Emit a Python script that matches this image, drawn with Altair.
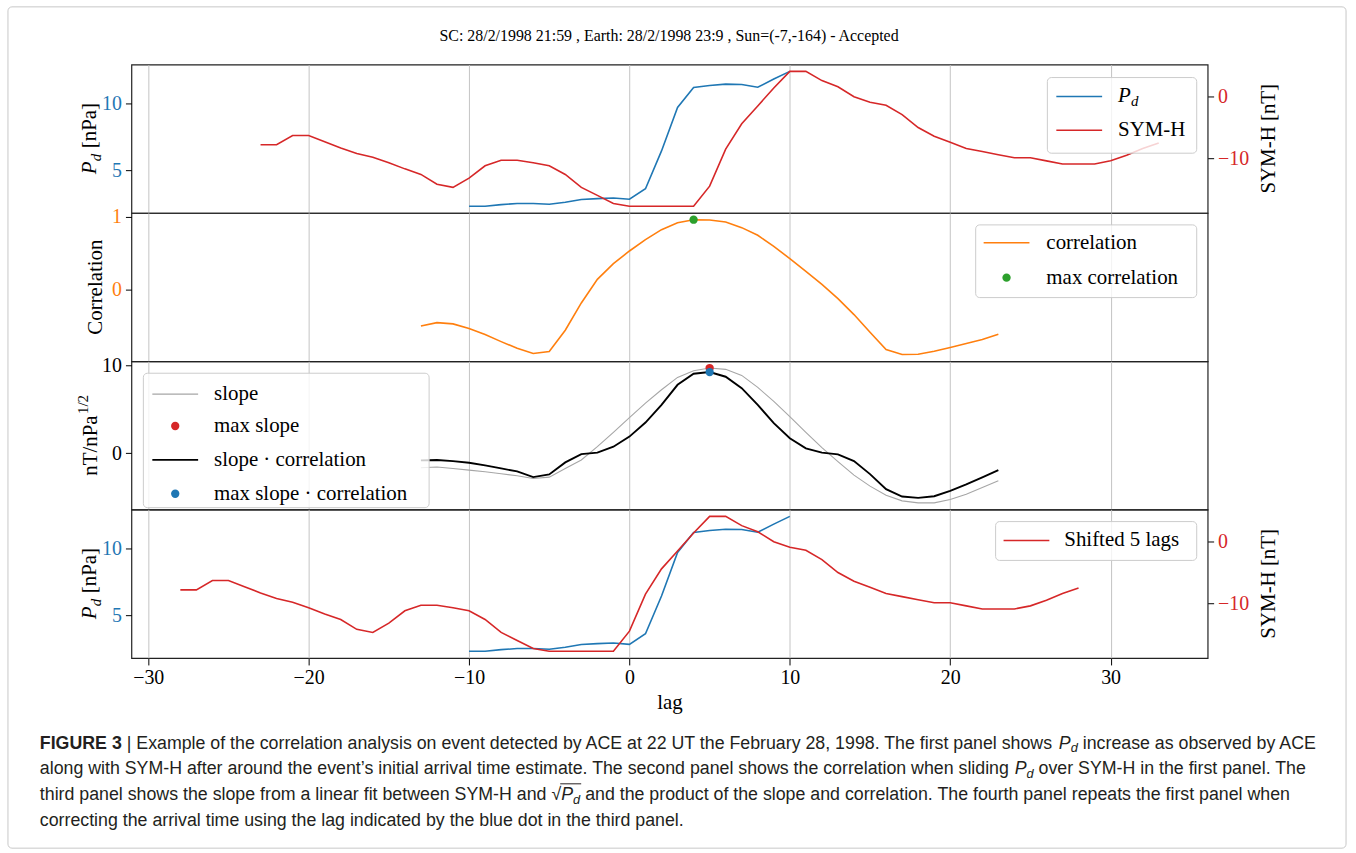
import altair as alt
import pandas as pd

BLUE, RED, ORANGE, GREEN = "#1f77b4", "#d62728", "#ff7f0e", "#2ca02c"
GREY, FRAME, GRID, INK = "#a6a6a6", "#222222", "#c4c4c4", "#231f20"
SERIF, SANS = "Liberation Serif", "Liberation Sans"

# Dynamic pressure P_d seen by ACE [nPa]
pd_lags = list(range(-10, 11))
pd_vals = [2.29, 2.29, 2.41, 2.49, 2.49, 2.44, 2.59, 2.79, 2.86, 2.91, 2.81,
           3.60, 6.44, 9.70, 11.20, 11.35, 11.45, 11.42, 11.22, 11.83, 12.41]

# SYM-H index [nT]
sym_lags = list(range(-23, 34))
sym_vals = [-7.8, -7.8, -6.3, -6.3, -7.3, -8.3, -9.2, -9.8, -10.7, -11.7,
            -12.6, -14.2, -14.7, -13.2, -11.2, -10.3, -10.3, -10.7, -11.2, -12.6,
            -14.7, -16.0, -17.3, -17.75, -17.75, -17.75, -17.75, -17.75, -14.5, -8.5,
            -4.4, -1.5, 1.4, 4.1, 4.1, 2.6, 1.6, 0.0, -0.9, -1.4,
            -2.9, -5.0, -6.4, -7.4, -8.4, -8.9, -9.4, -9.9, -9.9, -10.4,
            -10.9, -10.9, -10.9, -10.4, -9.5, -8.4, -7.5]

# Sliding-window results
corr_lags = list(range(-13, 24))
corr_vals = [-0.507, -0.461, -0.479, -0.544, -0.627, -0.724, -0.816, -0.889, -0.862, -0.567,
             -0.189, 0.138, 0.355, 0.530, 0.687, 0.825, 0.922, 0.963, 0.958, 0.931,
             0.853, 0.747, 0.594, 0.424, 0.249, 0.069, -0.129, -0.350, -0.594, -0.834,
             -0.903, -0.899, -0.857, -0.806, -0.751, -0.696, -0.622]
slope_vals = [-1.64, -1.56, -1.72, -1.91, -2.10, -2.33, -2.56, -2.86, -2.71, -1.72,
              -0.76, 0.76, 2.40, 4.08, 5.73, 7.25, 8.66, 9.43, 9.73, 9.58,
              8.89, 7.52, 5.92, 4.20, 2.40, 0.65, -0.95, -2.48, -3.74, -4.77,
              -5.42, -5.65, -5.65, -5.27, -4.66, -3.89, -3.13]
slope_corr_vals = [-0.80, -0.76, -0.88, -1.07, -1.37, -1.72, -2.06, -2.71, -2.40, -1.03,
                   -0.08, 0.08, 0.76, 1.91, 3.51, 5.53, 7.82, 9.08, 9.27, 8.74,
                   7.44, 5.53, 3.44, 1.72, 0.57, 0.08, -0.11, -0.88, -2.37, -4.08,
                   -4.92, -5.08, -4.89, -4.27, -3.55, -2.75, -1.91]
shift = 5
x_ticks = [-30, -20, -10, 0, 10, 20, 30]

W, H = 1081, 149
ONE = pd.DataFrame({"k": [0]})


def padded(vals):
    lo, hi = min(vals), max(vals)
    m = (hi - lo) * 0.05
    return [lo - m, hi + m]


XDOM = padded([min(sym_lags) - shift, max(sym_lags)])
PD_DOM = padded(pd_vals)
SYM_DOM = padded(sym_vals)
CORR_DOM = padded(corr_vals)
SLOPE_DOM = padded(slope_vals + slope_corr_vals)

pd_df = pd.DataFrame({"lag": pd_lags, "v": pd_vals})
sym_df = pd.DataFrame({"lag": sym_lags, "v": sym_vals})
sym_shift_df = pd.DataFrame({"lag": [l - shift for l in sym_lags], "v": sym_vals})
corr_df = pd.DataFrame({"lag": corr_lags, "v": corr_vals})
slope_df = pd.DataFrame({"lag": corr_lags, "v": slope_vals})
sc_df = pd.DataFrame({"lag": corr_lags, "v": slope_corr_vals})

i_c = corr_vals.index(max(corr_vals))
i_s = slope_vals.index(max(slope_vals))
i_sc = slope_corr_vals.index(max(slope_corr_vals))
max_corr_df = pd.DataFrame({"lag": [corr_lags[i_c]], "v": [corr_vals[i_c]]})
max_slope_df = pd.DataFrame({"lag": [corr_lags[i_s]], "v": [slope_vals[i_s]]})
max_sc_df = pd.DataFrame({"lag": [corr_lags[i_sc]], "v": [slope_corr_vals[i_sc]]})


def x_enc(show):
    if show:
        axis = alt.Axis(values=x_ticks, grid=True, domain=False, tickSize=7,
                        labelPadding=3, title="lag", titlePadding=4)
    else:
        axis = alt.Axis(values=x_ticks, grid=True, domain=False, labels=False,
                        ticks=False, title=None)
    return alt.X("lag:Q", scale=alt.Scale(domain=XDOM, nice=False, zero=False), axis=axis)


def y_enc(dom, values, color, orient="left"):
    return alt.Y("v:Q", scale=alt.Scale(domain=dom, nice=False, zero=False),
                 axis=alt.Axis(values=values, labelColor=color, orient=orient, title=None,
                               tickSize=6, labelPadding=4, domain=False, grid=False))


def txt(x, y, s, size=21, font=SERIF, style="normal", weight="normal", align="left",
        baseline="middle", angle=0, color="black"):
    return alt.Chart(ONE).mark_text(
        font=font, fontSize=size, fontStyle=style, fontWeight=weight, align=align,
        baseline=baseline, angle=angle, color=color
    ).encode(x=alt.value(x), y=alt.value(y), text=alt.value(s))


def hline(x1, x2, y, color, width=1.6):
    return alt.Chart(ONE).mark_rule(color=color, strokeWidth=width).encode(
        x=alt.value(x1), x2=alt.value(x2), y=alt.value(y))


def dot(x, y, color):
    return alt.Chart(ONE).mark_point(filled=True, size=70, color=color, opacity=1).encode(
        x=alt.value(x), y=alt.value(y))


def box(x1, x2, y1, y2):
    return alt.Chart(ONE).mark_rect(fill="white", fillOpacity=0.8, stroke="#cccccc",
                                    strokeWidth=1, cornerRadius=4).encode(
        x=alt.value(x1), x2=alt.value(x2), y=alt.value(y1), y2=alt.value(y2))


def pd_title():
    return [txt(-36, 110, "P", style="italic", angle=270, baseline="alphabetic"),
            txt(-31, 97, "d", size=15, style="italic", angle=270, baseline="alphabetic"),
            txt(-36, 84, "[nPa]", angle=270, baseline="alphabetic")]


def sym_title():
    return txt(1143, 74.5, "SYM-H [nT]", angle=270, align="center")


def line(df, color, x, y, width=1.6):
    return alt.Chart(df).mark_line(color=color, strokeWidth=width).encode(x=x, y=y)


# ---------- panel 1: P_d and SYM-H ----------
p1 = alt.layer(
    line(pd_df, BLUE, x_enc(False), y_enc(PD_DOM, [5, 10], BLUE)),
    line(sym_df, RED, x_enc(False), y_enc(SYM_DOM, [-10, 0], RED, "right")),
    *pd_title(), sym_title(),
    box(920, 1070, 13, 89),
    hline(929, 975, 32, BLUE), txt(991, 32, "P", style="italic"),
    txt(1004, 37, "d", size=15, style="italic"),
    hline(929, 975, 66, RED), txt(991, 66, "SYM-H"),
    txt(540, -29, "SC: 28/2/1998 21:59 , Earth: 28/2/1998 23:9 , Sun=(-7,-164) - Accepted",
        size=16, align="center"),
    alt.Chart(ONE).mark_rect(fill="white", fillOpacity=0, stroke="#c8c8c8",
                             strokeWidth=1, cornerRadius=4).encode(
        x=alt.value(-124), x2=alt.value(1220), y=alt.value(-58), y2=alt.value(787)),
).resolve_scale(y="independent").properties(width=W, height=H)

# ---------- panel 2: correlation ----------
p2 = alt.layer(
    line(corr_df, ORANGE, x_enc(False), y_enc(CORR_DOM, [0, 1], ORANGE)),
    alt.Chart(max_corr_df).mark_point(filled=True, size=70, color=GREEN, opacity=1).encode(
        x=x_enc(False), y=y_enc(CORR_DOM, [0, 1], ORANGE)),
    txt(-35.5, 74.5, "Correlation", angle=270, align="center"),
    box(848, 1070, 12, 85),
    hline(856, 902, 30, ORANGE), txt(919, 30, "correlation"),
    dot(879, 65, GREEN), txt(919, 65, "max correlation"),
).properties(width=W, height=H)

# ---------- panel 3: slope and slope x correlation ----------
ys = y_enc(SLOPE_DOM, [0, 10], "black")
p3 = alt.layer(
    line(slope_df, GREY, x_enc(False), ys, width=1.1),
    line(sc_df, "black", x_enc(False), ys, width=1.9),
    alt.Chart(max_slope_df).mark_point(filled=True, size=70, color=RED, opacity=1).encode(
        x=x_enc(False), y=ys),
    alt.Chart(max_sc_df).mark_point(filled=True, size=70, color=BLUE, opacity=1).encode(
        x=x_enc(False), y=ys),
    txt(-35, 115, "nT/nPa", angle=270, baseline="alphabetic"),
    txt(-44, 53, "1/2", size=15, angle=270, baseline="alphabetic"),
    box(12, 299, 12, 147),
    hline(21, 67, 33, GREY, 1.1), txt(83, 33, "slope"),
    dot(44, 65, RED), txt(83, 65, "max slope"),
    hline(21, 67, 99, "black", 1.9), txt(83, 99, "slope \u00b7 correlation"),
    dot(44, 133, BLUE), txt(83, 133, "max slope \u00b7 correlation"),
).properties(width=W, height=H)

# ---------- caption ----------
AR = dict(zip("abcdefghijklmnopqrstuvwxyz",
              [556, 556, 500, 556, 556, 278, 556, 556, 222, 222, 500, 222, 833,
               556, 556, 556, 556, 333, 500, 278, 556, 500, 722, 500, 500, 500]))
AR.update(zip("ABCDEFGHIJKLMNOPQRSTUVWXYZ",
              [667, 667, 722, 722, 667, 611, 778, 722, 278, 500, 667, 556, 833,
               722, 778, 667, 778, 722, 667, 611, 722, 667, 944, 667, 667, 611]))
AR.update({c: 556 for c in "0123456789"})
AR.update({" ": 278, ",": 278, ".": 278, "|": 260, "-": 333, "\u2019": 222, "\u221a": 549})


def em(s):
    return sum(AR.get(c, 556) for c in s) / 1000


CAPTION = [
    [("FIGURE 3", "b"),
     (" | Example of the correlation analysis on event detected by ACE at 22 UT the "
      "February 28, 1998. The first panel shows ", "r"),
     ("P", "i"), ("d", "s"), (" increase as observed by ACE", "r")],
    [("along with SYM-H after around the event\u2019s initial arrival time estimate. The second "
      "panel shows the correlation when sliding ", "r"),
     ("P", "i"), ("d", "s"), (" over SYM-H in the first panel. The", "r")],
    [("third panel shows the slope from a linear fit between SYM-H and ", "r"), ("\u221a", "r"),
     ("P", "io"), ("d", "so"),
     (" and the product of the slope and correlation. The fourth panel repeats the first panel when", "r")],
    [("correcting the arrival time using the lag indicated by the blue dot in the third panel.", "r")],
]
SUB = 0.72
cap_fs = round(1283 / sum(em(t) * (SUB if s[0] == "s" else 1) for t, s in CAPTION[0]), 2)

cap_layers = []
for i, segs in enumerate(CAPTION):
    x, y = -92.0, 240 + 26 * i
    over = []
    for text, style in segs:
        size = cap_fs * SUB if style[0] == "s" else cap_fs
        body = text.strip(" ")
        lead = len(text) - len(text.lstrip(" "))
        xs = x + lead * 0.278 * size
        if style.endswith("o"):
            over += [xs, xs + em(body) * size]
        cap_layers.append(txt(
            xs, y + (0.22 * cap_fs if style[0] == "s" else 0), body, size=size, font=SANS,
            style="italic" if style[0] in "is" else "normal",
            weight="bold" if style == "b" else "normal", baseline="alphabetic", color=INK))
        x += em(text) * size
    if over:
        cap_layers.append(hline(min(over) - 1, max(over) + 1, y - 0.93 * cap_fs, INK, 1))

# ---------- panel 4: SYM-H shifted by the chosen lag ----------
p4 = alt.layer(
    line(pd_df, BLUE, x_enc(True), y_enc(PD_DOM, [5, 10], BLUE)),
    line(sym_shift_df, RED, x_enc(True), y_enc(SYM_DOM, [-10, 0], RED, "right")),
    *pd_title(), sym_title(),
    box(868, 1070, 12, 51),
    hline(876, 922, 31, RED), txt(937, 31, f"Shifted {shift} lags"),
    *cap_layers,
).resolve_scale(y="independent").properties(width=W, height=H)

chart = alt.vconcat(p1, p2, p3, p4, spacing=0, bounds="flush").properties(
    padding={"left": 6, "top": 3, "right": 8, "bottom": 5}
).configure_view(
    stroke=FRAME, strokeWidth=1.2
).configure_axis(
    labelFont=SERIF, labelFontSize=20, titleFont=SERIF, titleFontSize=21,
    titleFontWeight="normal", titleColor="black", labelColor="black",
    tickColor="black", gridColor=GRID, gridWidth=1
)

chart.save("out.html", embed_options={"renderer": "svg", "actions": False})
